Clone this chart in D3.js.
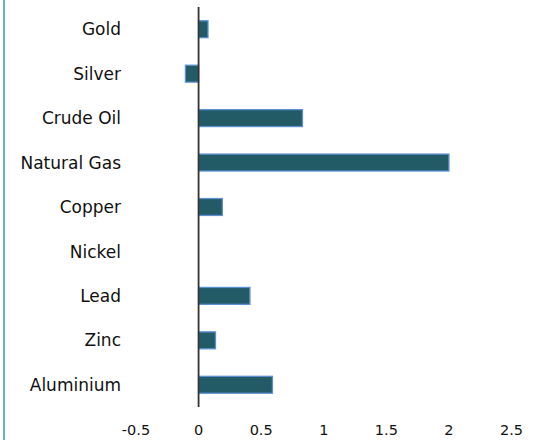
<!DOCTYPE html>
<html>
<head>
<meta charset="utf-8">
<script src="https://cdn.jsdelivr.net/npm/d3@7"></script>
<style>
  body { margin: 0; background: #fff; }
  svg { display: block; font-family: "DejaVu Sans", sans-serif; }
</style>
</head>
<body>
<div id="chart"></div>
<script>
const categories = ["Gold", "Silver", "Crude Oil", "Natural Gas", "Copper", "Nickel", "Lead", "Zinc", "Aluminium"];
const values = [0.075, -0.105, 0.83, 2.0, 0.19, 0, 0.41, 0.135, 0.59];
const xTicks = [-0.5, 0, 0.5, 1, 1.5, 2, 2.5];

const W = 536, H = 440;

const svg = d3.select("#chart").append("svg")
    .attr("width", W)
    .attr("height", H);

// teal frame edge on the left
svg.append("line")
    .attr("x1", 4).attr("x2", 4)
    .attr("y1", 0).attr("y2", H)
    .attr("stroke", "#3a9e9c")
    .attr("stroke-width", 1.5);

const x = d3.scaleLinear()
    .domain([-0.5, 2.5])
    .range([136, 511.5]);

const y = d3.scaleBand()
    .domain(categories)
    .range([7, 407])
    .paddingInner(0.62)
    .paddingOuter(0.31);

const data = categories.map((c, i) => ({ name: c, value: values[i] }));

svg.selectAll(".bar")
    .data(data.filter(d => d.value !== 0))
    .enter().append("rect")
    .attr("class", "bar")
    .attr("x", d => x(Math.min(0, d.value)))
    .attr("width", d => Math.abs(x(d.value) - x(0)))
    .attr("y", d => y(d.name))
    .attr("height", y.bandwidth())
    .attr("fill", "#225a66")
    .attr("stroke", "#5a8fd0")
    .attr("stroke-width", 1.3);

// category labels
svg.selectAll(".cat")
    .data(categories)
    .enter().append("text")
    .attr("class", "cat")
    .attr("x", 121)
    .attr("y", d => y(d) + y.bandwidth() / 2)
    .attr("dy", "0.36em")
    .attr("text-anchor", "end")
    .attr("font-size", "17px")
    .attr("fill", "#111")
    .text(d => d);

// vertical axis at zero
svg.append("line")
    .attr("x1", x(0)).attr("x2", x(0))
    .attr("y1", 7).attr("y2", 407)
    .attr("stroke", "#333")
    .attr("stroke-width", 1.8);

// x tick labels
svg.selectAll(".tick")
    .data(xTicks)
    .enter().append("text")
    .attr("class", "tick")
    .attr("x", d => x(d))
    .attr("y", 435)
    .attr("text-anchor", "middle")
    .attr("font-size", "14.5px")
    .attr("fill", "#111")
    .text(d => d);
</script>
</body>
</html>
